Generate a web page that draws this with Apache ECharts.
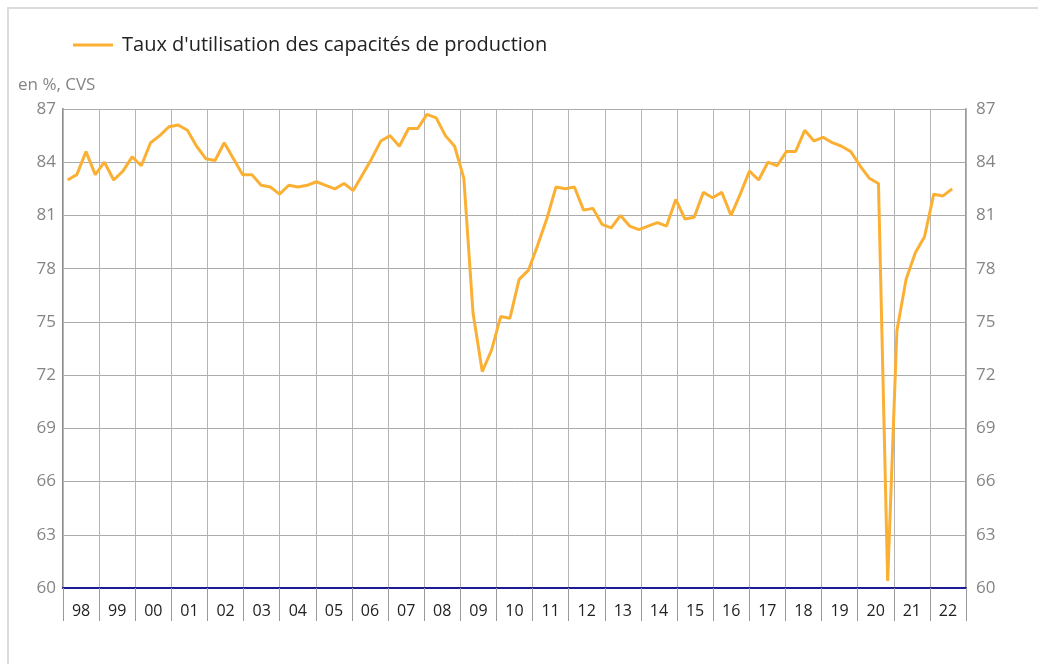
<!DOCTYPE html>
<html>
<head>
<meta charset="utf-8">
<script src="https://cdn.jsdelivr.net/npm/echarts@6/dist/echarts.min.js"></script>
<style>
  html, body { margin: 0; padding: 0; background: #fff; }
  #chart { width: 1038px; height: 664px; }
</style>
</head>
<body>
<div id="chart"></div>
<script>
// libellés des années (axe du bas)
const yearLabels = ['98', '99', '00', '01', '02', '03', '04', '05', '06', '07', '08', '09',
  '10', '11', '12', '13', '14', '15', '16', '17', '18', '19', '20', '21', '22'];

// taux trimestriel, 1998T1 -> 2022T1
const tauxUtilisation = [
  83.0, 83.3, 84.6, 83.3,   // 98
  84.0, 83.0, 83.5, 84.3,   // 99
  83.8, 85.1, 85.5, 86.0,   // 00
  86.1, 85.8, 84.9, 84.2,   // 01
  84.1, 85.1, 84.2, 83.3,   // 02
  83.3, 82.7, 82.6, 82.2,   // 03
  82.7, 82.6, 82.7, 82.9,   // 04
  82.7, 82.5, 82.8, 82.4,   // 05
  83.3, 84.2, 85.2, 85.5,   // 06
  84.9, 85.9, 85.9, 86.7,   // 07
  86.5, 85.5, 84.9, 83.1,   // 08
  75.5, 72.2, 73.4, 75.3,   // 09
  75.2, 77.4, 77.9, 79.3,   // 10
  80.8, 82.6, 82.5, 82.6,   // 11
  81.3, 81.4, 80.5, 80.3,   // 12
  81.0, 80.4, 80.2, 80.4,   // 13
  80.6, 80.4, 81.9, 80.8,   // 14
  80.9, 82.3, 82.0, 82.3,   // 15
  81.0, 82.2, 83.5, 83.0,   // 16
  84.0, 83.8, 84.6, 84.6,   // 17
  85.8, 85.2, 85.4, 85.1,   // 18
  84.9, 84.6, 83.8, 83.1,   // 19
  82.8, 60.4, 74.5, 77.4,   // 20
  78.9, 79.8, 82.2, 82.1,   // 21
  82.5                      // 22
];

// trimestres pour l'axe de la courbe (jusqu'à 22T2)
const quarters = [];
yearLabels.forEach(y => {
  for (let q = 1; q <= 4; q++) quarters.push(y + 'T' + q);
});
quarters.length = 98;

const chart = echarts.init(document.getElementById('chart'));

const axisLabelStyle = { color: '#858585', fontSize: 17, fontFamily: 'Open Sans' };

const option = {
  animation: false,
  textStyle: { fontFamily: 'Open Sans' },
  grid: { left: 63, right: 72, top: 109, bottom: 76 },
  legend: {
    left: 68,
    top: 30,
    icon: 'rect',
    itemWidth: 40,
    itemHeight: 3,
    itemGap: 14,
    textStyle: { fontSize: 20, color: '#222', fontFamily: 'Open Sans', padding: [0, 0, 0, 4] },
    data: ["Taux d'utilisation des capacités de production"]
  },
  graphic: [
    {
      type: 'rect',
      shape: { x: 8, y: 8, width: 1040, height: 670 },
      style: { fill: 'none', stroke: '#dcdcdc', lineWidth: 2 },
      silent: true
    },
    {
      type: 'text',
      left: 18,
      top: 77,
      style: { text: 'en %, CVS', fill: '#858585', fontSize: 17, fontFamily: 'Open Sans' }
    }
  ],
  xAxis: [
    {
      type: 'category',
      data: quarters,
      show: false
    },
    {
      type: 'category',
      data: yearLabels,
      position: 'bottom',
      boundaryGap: true,
      z: 5,
      axisLine: { lineStyle: { color: '#1c1c96', width: 2 } },
      axisTick: { show: true, length: 33, interval: 0, lineStyle: { color: '#9a9a9a' } },
      axisLabel: { interval: 0, margin: 15, color: '#222', fontSize: 16, fontFamily: 'Open Sans' },
      splitLine: { show: true, interval: 0, lineStyle: { color: '#b5b5b5' } }
    }
  ],
  yAxis: [
    {
      type: 'value',
      position: 'left',
      min: 60,
      max: 87,
      interval: 3,
      axisLine: { show: true, lineStyle: { color: '#8c8c8c', width: 2 } },
      axisTick: { show: false },
      axisLabel: Object.assign({ margin: 7 }, axisLabelStyle),
      splitLine: { show: true, lineStyle: { color: '#ababab' } }
    },
    {
      type: 'value',
      position: 'right',
      min: 60,
      max: 87,
      interval: 3,
      axisLine: { show: true, lineStyle: { color: '#9c9c9c', width: 2 } },
      axisTick: { show: false },
      axisLabel: Object.assign({ margin: 10 }, axisLabelStyle),
      splitLine: { show: false }
    }
  ],
  series: [
    {
      name: "Taux d'utilisation des capacités de production",
      type: 'line',
      xAxisIndex: 0,
      yAxisIndex: 0,
      data: tauxUtilisation,
      symbol: 'none',
      z: 10,
      itemStyle: { color: '#fbb034' },
      lineStyle: { color: '#fbb034', width: 3 }
    }
  ]
};

chart.setOption(option);
</script>
</body>
</html>
